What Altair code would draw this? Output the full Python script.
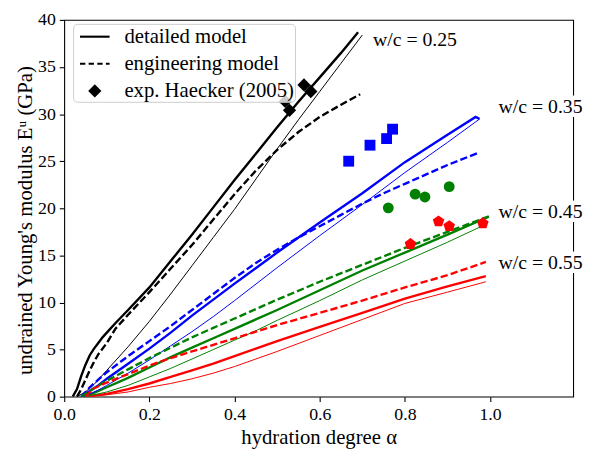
import altair as alt
import pandas as pd

# ---------------- data ----------------
wc_groups = ["0.25", "0.35", "0.45", "0.55"]
colors = ["black", "#0000ff", "#008000", "#ff0000"]

# w/c = 0.25
a25_det = [0.02, 0.03, 0.04, 0.05, 0.06, 0.07, 0.08, 0.09, 0.1, 0.12, 0.15, 0.2, 0.25, 0.3, 0.35, 0.4, 0.45, 0.5, 0.55, 0.6, 0.65, 0.69]
e25_det = [0, 0.8, 2.2, 3.4, 4.4, 5.1, 5.7, 6.3, 6.8, 7.8, 9.2, 11.6, 14.4, 17.2, 20.1, 23.0, 25.8, 28.6, 31.3, 33.9, 36.5, 38.7]
a25_thin = [0.03, 0.05, 0.07, 0.1, 0.15, 0.2, 0.25, 0.3, 0.35, 0.4, 0.45, 0.5, 0.55, 0.6, 0.65, 0.7]
e25_thin = [0, 0.5, 1.3, 2.8, 5.3, 8.0, 10.9, 13.9, 16.9, 19.9, 23.1, 26.3, 29.4, 32.4, 35.4, 38.4]
a25_eng = [0.03, 0.04, 0.05, 0.06, 0.07, 0.08, 0.1, 0.12, 0.15, 0.2, 0.25, 0.3, 0.35, 0.4, 0.45, 0.5, 0.55, 0.6, 0.65, 0.695]
e25_eng = [0, 0.8, 1.8, 2.8, 3.7, 4.5, 5.7, 7.2, 8.7, 11.1, 13.6, 16.1, 18.8, 21.5, 24.0, 26.2, 28.1, 29.7, 31.0, 32.1]

# w/c = 0.35
a35_det = [0.04, 0.06, 0.08, 0.1, 0.15, 0.2, 0.25, 0.3, 0.35, 0.4, 0.5, 0.6, 0.7, 0.8, 0.9, 0.966, 0.975]
e35_det = [0, 0.6, 1.2, 1.9, 3.5, 5.1, 6.8, 8.6, 10.3, 12.0, 15.3, 18.5, 21.6, 24.9, 27.8, 29.7, 29.5]
a35_thin = [0.045, 0.08, 0.1, 0.15, 0.2, 0.25, 0.3, 0.35, 0.4, 0.5, 0.6, 0.7, 0.8, 0.9, 0.976]
e35_thin = [0, 0.7, 1.2, 2.5, 3.9, 5.4, 6.9, 8.5, 10.2, 13.7, 17.1, 20.4, 23.8, 27.0, 29.5]
a35_eng = [0.04, 0.06, 0.08, 0.1, 0.15, 0.2, 0.25, 0.3, 0.35, 0.4, 0.45, 0.5, 0.55, 0.6, 0.65, 0.7, 0.75, 0.8, 0.85, 0.9, 0.973]
e35_eng = [0, 1.0, 1.8, 2.6, 4.3, 5.9, 7.5, 9.2, 10.9, 12.6, 14.2, 15.6, 16.9, 18.1, 19.3, 20.5, 21.6, 22.6, 23.6, 24.6, 25.9]

# w/c = 0.45
a45_det = [0.045, 0.07, 0.1, 0.15, 0.2, 0.25, 0.3, 0.35, 0.4, 0.45, 0.5, 0.6, 0.7, 0.8, 0.9, 0.997]
e45_det = [0, 0.4, 1.0, 2.0, 3.1, 4.2, 5.2, 6.2, 7.2, 8.2, 9.2, 11.3, 13.4, 15.3, 17.2, 19.1]
a45_thin = [0.05, 0.1, 0.15, 0.2, 0.25, 0.3, 0.35, 0.4, 0.45, 0.5, 0.6, 0.7, 0.8, 0.9, 0.99]
e45_thin = [0, 0.5, 1.2, 2.1, 3.0, 4.0, 5.0, 6.0, 7.0, 8.1, 10.2, 12.4, 14.4, 16.4, 18.3]
a45_eng = [0.04, 0.07, 0.1, 0.15, 0.2, 0.25, 0.3, 0.35, 0.4, 0.45, 0.5, 0.6, 0.7, 0.8, 0.9, 1.0]
e45_eng = [0, 0.9, 1.7, 2.9, 4.1, 5.2, 6.3, 7.3, 8.3, 9.3, 10.3, 12.2, 14.0, 15.8, 17.5, 19.2]

# w/c = 0.55
a55_det = [0.05, 0.1, 0.15, 0.2, 0.25, 0.3, 0.35, 0.4, 0.45, 0.5, 0.6, 0.7, 0.8, 0.9, 0.99]
e55_det = [0, 0.3, 0.8, 1.4, 2.1, 2.8, 3.5, 4.3, 5.1, 5.9, 7.4, 8.9, 10.4, 11.7, 12.8]
a55_thin = [0.06, 0.1, 0.15, 0.2, 0.25, 0.3, 0.35, 0.4, 0.45, 0.5, 0.6, 0.7, 0.8, 0.9, 0.99]
e55_thin = [0, 0.2, 0.5, 1.0, 1.4, 1.9, 2.5, 3.2, 4.0, 4.8, 6.5, 8.2, 9.9, 11.1, 12.2]
a55_eng = [0.05, 0.066, 0.1, 0.15, 0.2, 0.25, 0.3, 0.35, 0.4, 0.45, 0.5, 0.6, 0.7, 0.8, 0.9, 0.99]
e55_eng = [0, 0.8, 1.5, 2.4, 3.3, 4.1, 4.8, 5.5, 6.2, 6.9, 7.6, 8.9, 10.2, 11.6, 12.9, 14.3]

# experiments
exp25_a = [0.519, 0.529, 0.563, 0.579]
exp25_e = [31.35, 30.4, 33.1, 32.4]
exp35_a = [0.668, 0.718, 0.757, 0.771]
exp35_e = [25.0, 26.7, 27.4, 28.4]
exp45_a = [0.761, 0.824, 0.847, 0.904]
exp45_e = [20.05, 21.5, 21.2, 22.3]
exp55_a = [0.813, 0.879, 0.904, 0.983]
exp55_e = [16.2, 18.6, 18.1, 18.4]

label_texts = ["w/c = 0.25", "w/c = 0.35", "w/c = 0.45", "w/c = 0.55"]
label_a = [0.725, 1.02, 1.02, 1.02]
label_e = [37.9, 30.7, 19.55, 14.2]

legend_labels = ["detailed model", "engineering model", "exp. Haecker (2005)"]

x_ticks = [0.0, 0.2, 0.4, 0.6, 0.8, 1.0]
y_ticks = [0, 5, 10, 15, 20, 25, 30, 35, 40]

# ---------------- tables ----------------
curves = {
    "0.25": {"detailed": (a25_det, e25_det), "thin": (a25_thin, e25_thin), "engineering": (a25_eng, e25_eng)},
    "0.35": {"detailed": (a35_det, e35_det), "thin": (a35_thin, e35_thin), "engineering": (a35_eng, e35_eng)},
    "0.45": {"detailed": (a45_det, e45_det), "thin": (a45_thin, e45_thin), "engineering": (a45_eng, e45_eng)},
    "0.55": {"detailed": (a55_det, e55_det), "thin": (a55_thin, e55_thin), "engineering": (a55_eng, e55_eng)},
}
rows = []
for wc, models in curves.items():
    for model, (aa, ee) in models.items():
        for a, e in zip(aa, ee):
            rows.append({"alpha": a, "E": e, "wc": wc, "model": model})
lines_df = pd.DataFrame(rows)

def exp_df(aa, ee, wc):
    return pd.DataFrame({"alpha": aa, "E": ee, "wc": wc, "leg": legend_labels[2]})

labels_df = pd.DataFrame({"alpha": label_a, "E": label_e, "text": label_texts})

FONT = "Liberation Serif"
x_scale = alt.Scale(domain=[0, 1.195], nice=False, zero=False)
y_scale = alt.Scale(domain=[0, 40], nice=False)

X = alt.X("alpha:Q", scale=x_scale,
          axis=alt.Axis(values=x_ticks, format=".1f", title="hydration degree α",
                        labelFlush=False, titleFontSize=21, titlePadding=3))
Y = alt.Y("E:Q", scale=y_scale,
          axis=alt.Axis(values=y_ticks, format="d", title="undrained Young's modulus Eᵘ (GPa)",
                        labelFlush=False, titleFontSize=21, titlePadding=2, titleY=203))
COLOR = alt.Color("wc:N", scale=alt.Scale(domain=wc_groups, range=colors), legend=None)

base = alt.Chart(lines_df)
line_det = base.transform_filter(alt.datum.model == "detailed").mark_line(
    strokeWidth=2.4, clip=True).encode(x=X, y=Y, color=COLOR, detail="wc:N")
line_thin = base.transform_filter(alt.datum.model == "thin").mark_line(
    strokeWidth=1.0, clip=True).encode(x=X, y=Y, color=COLOR, detail="wc:N")
line_eng = base.transform_filter(alt.datum.model == "engineering").mark_line(
    strokeWidth=2.4, strokeDash=[7.4, 3.2], clip=True).encode(x=X, y=Y, color=COLOR, detail="wc:N")

# legend glyphs drawn as filled outlines (solid bar, dashed bars, diamond)
solid_path = "M-1.25,-0.09L1.25,-0.09L1.25,0.09L-1.25,0.09Z"
dash_path = ("M-1.25,-0.09L-0.8,-0.09L-0.8,0.09L-1.25,0.09Z"
             "M-0.52,-0.09L-0.07,-0.09L-0.07,0.09L-0.52,0.09Z"
             "M0.21,-0.09L0.66,-0.09L0.66,0.09L0.21,0.09Z"
             "M0.94,-0.09L1.25,-0.09L1.25,0.09L0.94,0.09Z")
diamond_path = "M0,-0.56L0.56,0L0,0.56L-0.56,0Z"
pentagon = "M0,-1L0.951,-0.309L0.588,0.809L-0.588,0.809L-0.951,-0.309Z"

diamonds = alt.Chart(exp_df(exp25_a, exp25_e, "0.25")).mark_point(
    filled=True, color="black", strokeWidth=0, size=576, opacity=1
).encode(
    x="alpha:Q", y="E:Q",
    shape=alt.Shape("leg:N", scale=alt.Scale(domain=legend_labels,
                                             range=[solid_path, dash_path, diamond_path]),
                    legend=alt.Legend(title=None, orient="none", legendX=9, legendY=4,
                                      labelFont=FONT, labelFontSize=21, labelColor="black",
                                      labelLimit=400, labelOffset=18, symbolOffset=9,
                                      rowPadding=5.5, padding=1,
                                      fillColor="rgba(255,255,255,0.8)", strokeColor="#cccccc",
                                      cornerRadius=4, symbolFillColor="black",
                                      symbolStrokeWidth=0, symbolSize=576, symbolOpacity=1)),
)

squares = alt.Chart(exp_df(exp35_a, exp35_e, "0.35")).mark_point(
    shape="square", filled=True, color="#0000ff", size=121, opacity=1
).encode(x="alpha:Q", y="E:Q")

circles = alt.Chart(exp_df(exp45_a, exp45_e, "0.45")).mark_point(
    shape="circle", filled=True, color="#008000", size=121, opacity=1
).encode(x="alpha:Q", y="E:Q")

pentagons = alt.Chart(exp_df(exp55_a, exp55_e, "0.55")).mark_point(
    shape=pentagon, filled=True, color="#ff0000", size=150, opacity=1
).encode(x="alpha:Q", y="E:Q")

label_bg = alt.Chart(labels_df).mark_text(
    align="left", baseline="middle", font=FONT, fontSize=20, fill="white",
    stroke="white", strokeWidth=9, strokeJoin="round"
).encode(x="alpha:Q", y="E:Q", text="text:N")

label_fg = alt.Chart(labels_df).mark_text(
    align="left", baseline="middle", font=FONT, fontSize=20, color="black"
).encode(x="alpha:Q", y="E:Q", text="text:N")

chart = alt.layer(line_det, line_thin, line_eng, squares, circles, pentagons, diamonds,
                  label_bg, label_fg).properties(
    width=516, height=382,
    autosize=alt.AutoSizeParams(type="none"),
    padding={"left": 57, "top": 9, "right": 10, "bottom": 52},
).configure_view(
    stroke="black", strokeWidth=1.1
).configure_axis(
    domain=False, grid=False, ticks=True, tickColor="black", tickSize=5, tickWidth=1.1,
    labelFont=FONT, labelFontSize=18, labelColor="black", labelPadding=4,
    titleFont=FONT, titleFontWeight="normal", titleColor="black",
)

chart.save("out.html", embed_options={"renderer": "svg", "actions": False})
